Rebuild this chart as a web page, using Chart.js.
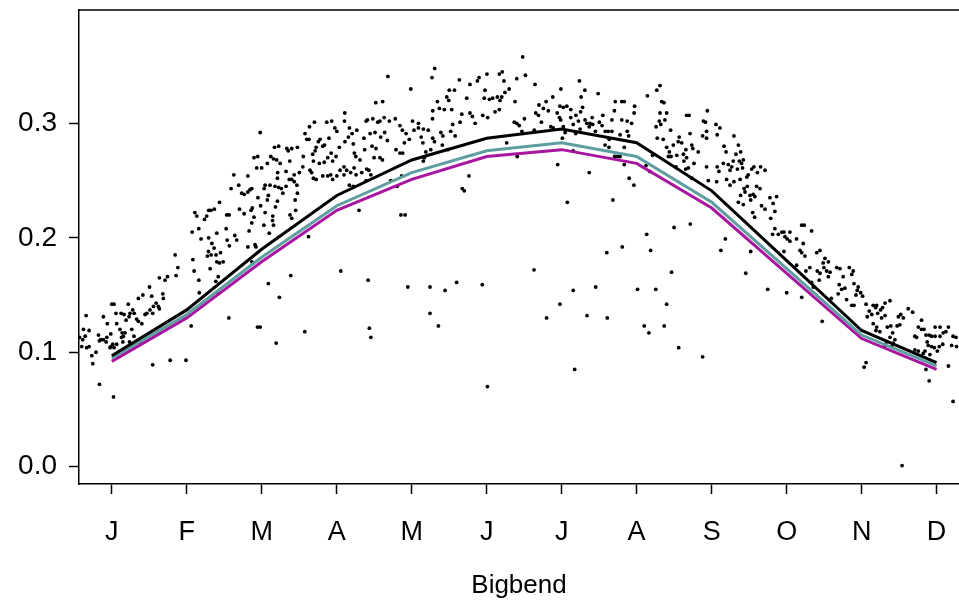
<!DOCTYPE html>
<html>
<head>
<meta charset="utf-8">
<script src="https://cdn.jsdelivr.net/npm/chart.js@4.4.1/dist/chart.umd.min.js"></script>
<style>
  html, body { margin: 0; padding: 0; background: #ffffff; }
  #wrap { width: 959px; height: 606px; }
</style>
</head>
<body>
<div id="wrap"><canvas id="chart" width="959" height="606"></canvas></div>
<script>
// Month ticks (day of year of each month centre) and labels
const monthLabels = ['J', 'F', 'M', 'A', 'M', 'J', 'J', 'A', 'S', 'O', 'N', 'D'];
const monthDays = [15.2, 45.6, 76.0, 106.5, 136.9, 167.3, 197.7, 228.1, 258.6, 289.0, 319.4, 349.8];
const yTickValues = [0.0, 0.1, 0.2, 0.3];

// Monthly curves
const blackLine = [0.097, 0.137, 0.190, 0.237, 0.268, 0.287, 0.295, 0.283, 0.241, 0.180, 0.119, 0.091];
const tealLine = [0.095, 0.133, 0.183, 0.228, 0.257, 0.276, 0.283, 0.271, 0.231, 0.173, 0.115, 0.088];
const magentaLine = [0.092, 0.130, 0.179, 0.224, 0.251, 0.271, 0.277, 0.265, 0.226, 0.169, 0.112, 0.085];

// Daily observations: [day of year, value]
const obsPoints = [
  // January - mid February
  [4.8,0.132],[3.7,0.120],[6.0,0.119],[2.1,0.113],[4.4,0.114],[3.4,0.111],[3.0,0.105],[5.0,0.104],[6.0,0.105],[7.1,0.097],
  [8.8,0.100],[7.5,0.090],[10.2,0.072],[11.8,0.131],[9.8,0.115],[10.7,0.111],[10.2,0.110],[11.8,0.111],[13.2,0.113],[13.4,0.125],
  [14.8,0.116],[12.9,0.109],[15.2,0.142],[16.1,0.142],[16.9,0.134],[19.0,0.134],[17.2,0.125],[14.8,0.105],[15.6,0.107],[14.5,0.104],
  [16.1,0.104],[17.2,0.107],[18.5,0.120],[19.4,0.117],[19.2,0.113],[20.6,0.117],[19.9,0.114],[19.7,0.109],[21.0,0.128],[21.9,0.142],
  [20.2,0.133],[22.6,0.134],[22.2,0.131],[23.7,0.137],[24.3,0.134],[23.3,0.120],[24.2,0.114],[22.4,0.109],[25.3,0.129],[26.0,0.147],
  [26.0,0.127],[27.8,0.150],[27.4,0.125],[28.7,0.133],[26.9,0.108],[29.4,0.134],[30.5,0.157],[30.7,0.137],[31.4,0.149],[31.8,0.134],
  [32.1,0.140],[33.2,0.143],[34.1,0.140],[34.5,0.165],[34.5,0.138],[35.9,0.151],[36.1,0.147],[36.8,0.163],[37.8,0.166],[40.9,0.185],
  [41.3,0.167],[42.0,0.174],[15.9,0.061],[31.8,0.089],[38.9,0.093],
  // February - March
  [75.4,0.292],[81.2,0.279],[82.9,0.280],[86.2,0.278],[86.8,0.276],[88.2,0.278],[72.9,0.270],[74.4,0.271],[79.7,0.271],[80.8,0.269],
  [82.1,0.268],[83.5,0.265],[87.4,0.267],[74.0,0.261],[76.0,0.261],[78.3,0.265],[85.9,0.258],[87.2,0.251],[88.2,0.251],[89.2,0.255],
  [82.5,0.257],[82.4,0.252],[64.7,0.255],[70.4,0.254],[63.6,0.243],[66.7,0.246],[67.9,0.239],[68.9,0.238],[70.4,0.240],[71.3,0.242],
  [72.0,0.243],[77.0,0.243],[77.4,0.246],[79.4,0.246],[81.4,0.245],[82.9,0.244],[84.0,0.243],[85.9,0.245],[84.6,0.239],[74.5,0.235],
  [78.7,0.237],[78.3,0.233],[75.6,0.228],[71.7,0.224],[72.2,0.226],[67.0,0.225],[68.9,0.221],[58.9,0.231],[56.8,0.225],[55.4,0.224],
  [54.5,0.224],[48.9,0.222],[49.7,0.219],[53.7,0.219],[52.8,0.216],[61.8,0.220],[62.8,0.220],[77.4,0.222],[81.6,0.227],[82.4,0.232],
  [72.9,0.218],[80.5,0.219],[80.4,0.215],[80.8,0.211],[76.9,0.211],[79.1,0.204],[72.0,0.213],[70.9,0.206],[87.5,0.220],[88.2,0.217],
  [47.8,0.205],[50.5,0.208],[51.4,0.199],[54.5,0.200],[57.8,0.204],[61.6,0.208],[65.1,0.202],[65.9,0.198],[62.9,0.193],[62.0,0.198],
  [70.4,0.192],[73.3,0.194],[73.7,0.192],[55.8,0.195],[56.7,0.191],[54.4,0.188],[54.0,0.184],[55.5,0.185],[57.5,0.185],[59.3,0.187],
  [57.8,0.179],[58.9,0.178],[60.4,0.179],[48.1,0.181],[48.6,0.171],[55.1,0.173],[50.5,0.163],[57.4,0.162],[58.4,0.166],[50.7,0.152],
  [72.0,0.179],[58.2,0.151],[78.7,0.160],[83.2,0.148],[87.8,0.167],[62.7,0.130],[47.4,0.123],[74.3,0.122],[75.4,0.122],[81.9,0.108],
  [45.3,0.093],
  // April - early May
  [127.2,0.341],[122.3,0.318],[125.1,0.319],[109.7,0.309],[97.4,0.301],[102.4,0.301],[104.4,0.302],[93.6,0.291],[94.3,0.286],[95.2,0.286],
  [95.4,0.297],[99.0,0.284],[99.7,0.286],[98.1,0.279],[97.7,0.276],[100.8,0.280],[101.5,0.281],[103.3,0.287],[105.7,0.296],[106.5,0.293],
  [109.6,0.302],[111.6,0.296],[112.7,0.291],[114.6,0.294],[118.4,0.302],[118.9,0.303],[121.1,0.304],[123.1,0.301],[124.0,0.302],[125.7,0.305],
  [127.8,0.302],[130.2,0.304],[132.1,0.298],[133.1,0.294],[120.0,0.291],[122.0,0.292],[124.3,0.288],[125.9,0.292],[127.0,0.285],[133.9,0.283],
  [90.5,0.279],[92.9,0.271],[96.7,0.273],[97.0,0.267],[99.4,0.265],[101.4,0.266],[102.8,0.270],[104.2,0.274],[104.8,0.267],[106.2,0.271],
  [107.5,0.279],[109.8,0.284],[111.2,0.288],[113.2,0.282],[113.6,0.274],[114.2,0.271],[115.9,0.268],[117.5,0.287],[117.8,0.277],[120.8,0.280],
  [122.4,0.278],[121.6,0.270],[124.0,0.270],[125.0,0.268],[130.5,0.277],[132.1,0.274],[133.2,0.274],[91.3,0.257],[92.7,0.262],[95.6,0.259],
  [96.3,0.257],[97.0,0.252],[98.1,0.251],[100.8,0.254],[102.8,0.254],[104.0,0.255],[104.8,0.251],[106.5,0.254],[107.8,0.259],[109.4,0.262],
  [109.4,0.255],[110.5,0.259],[112.1,0.257],[113.5,0.261],[114.3,0.255],[116.6,0.257],[118.6,0.260],[119.5,0.259],[120.3,0.255],[89.2,0.249],
  [90.3,0.246],[90.5,0.239],[89.6,0.233],[89.8,0.224],[95.0,0.201],[111.6,0.246],[113.2,0.245],[118.4,0.250],[128.4,0.250],[131.0,0.245],
  [132.5,0.220],[115.5,0.224],[108.1,0.171],[119.2,0.163],[93.5,0.118],[119.7,0.121],[120.3,0.113],
  // May - June
  [146.2,0.348],[145.1,0.340],[136.5,0.330],[156.2,0.338],[152.1,0.329],[154.2,0.329],[160.5,0.334],[163.5,0.337],[164.2,0.340],[167.4,0.343],
  [172.4,0.343],[173.6,0.345],[174.3,0.337],[176.4,0.330],[174.7,0.327],[173.4,0.323],[172.7,0.320],[178.8,0.319],[166.6,0.329],[166.3,0.322],
  [168.4,0.321],[169.7,0.322],[171.6,0.323],[159.2,0.322],[147.3,0.319],[151.1,0.323],[151.9,0.320],[145.4,0.311],[148.1,0.313],[150.1,0.312],
  [153.1,0.312],[157.2,0.308],[160.5,0.309],[161.5,0.306],[162.6,0.300],[165.7,0.307],[167.7,0.305],[170.7,0.310],[172.4,0.312],[156.5,0.301],
  [153.5,0.299],[154.5,0.289],[152.7,0.293],[148.7,0.292],[149.5,0.289],[145.3,0.304],[140.7,0.288],[141.4,0.283],[137.2,0.302],[137.8,0.294],
  [139.6,0.300],[139.6,0.296],[141.6,0.295],[143.6,0.294],[134.6,0.291],[135.9,0.286],[145.4,0.287],[146.1,0.284],[149.3,0.281],[144.6,0.277],
  [142.6,0.275],[142.0,0.270],[141.6,0.267],[151.5,0.277],[178.5,0.301],[175.4,0.283],[132.8,0.254],[160.1,0.254],[157.4,0.243],[158.2,0.241],
  [134.2,0.220],[135.3,0.157],[144.3,0.157],[150.4,0.154],[155.1,0.161],[165.5,0.159],[144.3,0.134],[147.7,0.123],[167.6,0.070],
  // July - mid August
  [181.9,0.358],[183.0,0.342],[179.5,0.339],[186.9,0.334],[204.9,0.337],[207.1,0.329],[205.6,0.323],[212.5,0.326],[197.4,0.330],[194.1,0.323],
  [191.4,0.319],[188.5,0.316],[190.3,0.313],[192.3,0.311],[187.2,0.309],[188.3,0.307],[182.6,0.304],[179.5,0.300],[180.5,0.298],[189.5,0.301],
  [181.6,0.293],[186.6,0.294],[193.3,0.297],[194.3,0.296],[195.9,0.309],[196.8,0.305],[197.3,0.303],[197.0,0.315],[198.4,0.314],[199.8,0.315],
  [201.4,0.312],[206.2,0.314],[205.4,0.310],[203.5,0.307],[204.5,0.302],[201.4,0.305],[202.4,0.299],[199.1,0.292],[198.4,0.297],[203.4,0.291],
  [205.2,0.295],[207.2,0.303],[207.9,0.300],[209.2,0.300],[210.1,0.305],[210.3,0.299],[208.9,0.297],[211.4,0.293],[213.0,0.301],[214.4,0.307],
  [214.1,0.298],[215.4,0.293],[216.6,0.293],[218.1,0.303],[219.1,0.311],[219.5,0.319],[222.1,0.319],[222.1,0.303],[218.1,0.293],[221.4,0.290],
  [217.0,0.286],[215.3,0.281],[216.9,0.279],[223.1,0.279],[219.2,0.271],[220.3,0.271],[221.4,0.271],[223.1,0.264],[198.0,0.287],[202.4,0.276],
  [179.7,0.271],[196.1,0.264],[208.9,0.257],[200.0,0.231],[218.5,0.233],[216.0,0.187],[222.3,0.192],[186.5,0.172],[202.4,0.154],[211.5,0.157],
  [197.0,0.142],[191.6,0.130],[208.0,0.132],[216.2,0.130],[203.0,0.085],
  // August - September
  [237.6,0.333],[236.3,0.329],[232.5,0.324],[223.1,0.319],[227.3,0.315],[227.1,0.309],[224.3,0.302],[226.1,0.300],[238.3,0.319],[239.2,0.318],
  [237.6,0.309],[240.3,0.309],[237.3,0.302],[239.6,0.303],[236.0,0.297],[237.9,0.299],[248.4,0.307],[249.4,0.307],[241.9,0.294],[256.8,0.311],
  [255.2,0.302],[256.0,0.301],[260.3,0.299],[261.9,0.296],[260.8,0.290],[256.5,0.293],[254.9,0.289],[256.5,0.287],[249.8,0.291],[245.4,0.288],
  [245.0,0.284],[246.4,0.283],[238.9,0.286],[236.5,0.287],[243.0,0.281],[240.3,0.279],[241.4,0.275],[242.1,0.271],[241.0,0.271],[244.4,0.272],
  [247.1,0.273],[248.1,0.277],[250.5,0.281],[250.9,0.278],[248.4,0.270],[253.1,0.275],[247.3,0.267],[251.4,0.265],[249.1,0.261],[244.1,0.262],
  [248.0,0.260],[256.5,0.262],[260.8,0.262],[261.5,0.258],[264.4,0.275],[263.6,0.280],[267.6,0.289],[263.3,0.265],[265.3,0.264],[266.0,0.259],
  [267.3,0.267],[264.6,0.251],[266.0,0.246],[257.2,0.250],[260.6,0.249],[250.5,0.252],[224.3,0.293],[224.9,0.289],[231.9,0.263],[234.6,0.272],
  [233.5,0.258],[225.1,0.252],[227.0,0.246],[243.3,0.209],[249.9,0.212],[264.1,0.199],[262.3,0.189],[232.2,0.203],[233.8,0.189],[242.3,0.170],
  [228.5,0.155],[235.9,0.155],[240.3,0.142],[231.2,0.123],[239.3,0.123],[233.1,0.117],[245.2,0.104],[254.9,0.096],
  // October - mid November
  [269.4,0.281],[270.3,0.275],[268.4,0.273],[269.8,0.267],[271.4,0.268],[270.7,0.265],[266.7,0.262],[269.0,0.260],[271.1,0.261],[274.8,0.260],
  [275.7,0.262],[278.4,0.262],[280.2,0.259],[277.1,0.257],[273.4,0.255],[272.8,0.253],[270.1,0.251],[267.6,0.249],[271.7,0.243],[273.0,0.245],
  [276.8,0.245],[278.2,0.243],[272.1,0.240],[270.3,0.237],[274.1,0.237],[275.4,0.238],[276.1,0.236],[274.4,0.233],[269.4,0.231],[271.4,0.229],
  [278.8,0.228],[280.2,0.225],[282.2,0.235],[284.9,0.236],[283.5,0.230],[284.2,0.223],[282.5,0.217],[275.2,0.222],[276.0,0.218],[284.2,0.208],
  [283.3,0.203],[285.6,0.203],[287.0,0.205],[287.9,0.205],[288.3,0.201],[290.3,0.205],[289.2,0.199],[290.3,0.197],[293.0,0.199],[295.1,0.211],
  [296.1,0.211],[299.1,0.206],[295.7,0.195],[287.9,0.188],[294.4,0.189],[295.1,0.187],[296.4,0.184],[296.8,0.171],[298.4,0.174],[293.0,0.176],
  [301.2,0.187],[302.5,0.189],[304.5,0.182],[305.9,0.179],[303.8,0.178],[304.1,0.174],[305.2,0.171],[306.6,0.170],[302.5,0.169],[301.4,0.171],
  [302.2,0.163],[305.9,0.166],[309.3,0.174],[310.6,0.173],[311.9,0.166],[310.3,0.159],[311.3,0.155],[312.6,0.156],[309.9,0.151],[307.1,0.147],
  [299.1,0.161],[299.8,0.157],[274.4,0.188],[272.4,0.169],[281.3,0.155],[289.0,0.152],[295.1,0.148],[303.4,0.127],
  // November - December
  [314.4,0.174],[316.0,0.171],[315.4,0.168],[316.3,0.160],[318.0,0.157],[317.6,0.154],[319.0,0.152],[319.8,0.149],[317.1,0.150],[313.3,0.146],
  [315.4,0.141],[316.3,0.141],[321.2,0.142],[324.1,0.141],[325.5,0.141],[325.1,0.139],[327.1,0.137],[327.9,0.139],[328.9,0.143],[330.9,0.145],
  [322.5,0.136],[321.7,0.131],[323.5,0.133],[325.9,0.134],[327.5,0.130],[328.9,0.132],[324.1,0.125],[325.5,0.122],[325.2,0.119],[326.8,0.118],
  [329.8,0.122],[331.2,0.123],[332.0,0.117],[330.9,0.113],[329.5,0.109],[328.9,0.106],[332.9,0.111],[334.3,0.131],[335.3,0.133],[336.3,0.130],
  [338.3,0.138],[340.1,0.135],[343.7,0.128],[333.8,0.123],[334.9,0.124],[342.4,0.122],[343.7,0.120],[344.7,0.120],[341.0,0.114],[341.7,0.113],
  [345.5,0.115],[346.8,0.115],[347.8,0.114],[349.2,0.122],[349.2,0.114],[351.2,0.122],[351.2,0.114],[352.5,0.117],[354.6,0.122],[353.6,0.118],
  [356.5,0.114],[357.7,0.113],[357.9,0.105],[355.9,0.106],[352.3,0.107],[350.9,0.105],[348.9,0.104],[347.8,0.105],[350.1,0.101],[346.0,0.109],
  [346.4,0.106],[345.1,0.101],[344.4,0.099],[342.4,0.101],[341.0,0.102],[347.1,0.098],[332.2,0.108],[331.6,0.105],[354.6,0.088],[345.5,0.085],
  [346.8,0.075],[321.2,0.091],[320.4,0.087],[356.5,0.057],[335.8,0.001]
];

const FONT = "'Liberation Sans', Arial, Helvetica, sans-serif";

function toXY(xs, ys) {
  return xs.map((x, i) => ({ x: x, y: ys[i] }));
}

// R-style box: draw the top edge of the frame (left/bottom come from the axes)
const frameTop = {
  id: 'frameTop',
  afterDraw(chart) {
    const { ctx, chartArea } = chart;
    ctx.save();
    ctx.strokeStyle = '#000';
    ctx.lineWidth = 1.5;
    ctx.beginPath();
    ctx.moveTo(chartArea.left, chartArea.top);
    ctx.lineTo(chartArea.right, chartArea.top);
    ctx.stroke();
    ctx.restore();
  }
};

const ctx = document.getElementById('chart').getContext('2d');
const chart = new Chart(ctx, {
  type: 'scatter',
  data: {
    datasets: [
      {
        type: 'line',
        label: 'black',
        data: toXY(monthDays, blackLine),
        borderColor: '#000000',
        borderWidth: 3,
        pointRadius: 0,
        tension: 0,
        order: 0
      },
      {
        type: 'line',
        label: 'teal',
        data: toXY(monthDays, tealLine),
        borderColor: '#5f9ea0',
        borderWidth: 3,
        pointRadius: 0,
        tension: 0,
        order: 1
      },
      {
        type: 'line',
        label: 'magenta',
        data: toXY(monthDays, magentaLine),
        borderColor: '#a8169f',
        borderWidth: 3,
        pointRadius: 0,
        tension: 0,
        order: 2
      },
      {
        label: 'obs',
        data: obsPoints.map(p => ({ x: p[0], y: p[1] })),
        backgroundColor: '#000000',
        borderColor: '#000000',
        borderWidth: 0,
        pointRadius: 1.9,
        order: 3
      }
    ]
  },
  options: {
    responsive: false,
    animation: false,
    devicePixelRatio: 1,
    layout: { autoPadding: false, padding: { top: 10, right: 0, left: 0, bottom: 0 } },
    plugins: {
      legend: { display: false },
      tooltip: { enabled: false }
    },
    scales: {
      x: {
        type: 'linear',
        min: 1.9,
        max: 358.9,
        afterBuildTicks: (scale) => { scale.ticks = monthDays.map(v => ({ value: v })); },
        afterFit: (scale) => {
          scale.height = 122;
          scale.paddingLeft = 0;
          scale.paddingRight = 0;
        },
        ticks: {
          autoSkip: false,
          maxRotation: 0,
          color: '#000',
          font: { family: FONT, size: 27 },
          padding: 22,
          callback: (v, i) => monthLabels[i]
        },
        grid: {
          drawOnChartArea: false,
          drawTicks: true,
          tickLength: 10,
          tickColor: '#000',
          tickWidth: 1.5
        },
        border: { display: true, color: '#000', width: 1.5 },
        title: {
          display: true,
          text: 'Bigbend',
          color: '#000',
          font: { family: FONT, size: 26 },
          padding: { top: 0, bottom: 5 }
        }
      },
      y: {
        type: 'linear',
        min: -0.0151,
        max: 0.399,
        afterBuildTicks: (scale) => { scale.ticks = yTickValues.map(v => ({ value: v })); },
        afterFit: (scale) => {
          scale.width = 79;
          scale.paddingTop = 0;
          scale.paddingBottom = 0;
        },
        ticks: {
          color: '#000',
          font: { family: FONT, size: 28 },
          padding: 12,
          callback: (v) => Number(v).toFixed(1)
        },
        grid: {
          drawOnChartArea: false,
          drawTicks: true,
          tickLength: 10,
          tickColor: '#000',
          tickWidth: 1.5
        },
        border: { display: true, color: '#000', width: 1.5 }
      }
    }
  },
  plugins: [frameTop]
});
</script>
</body>
</html>
